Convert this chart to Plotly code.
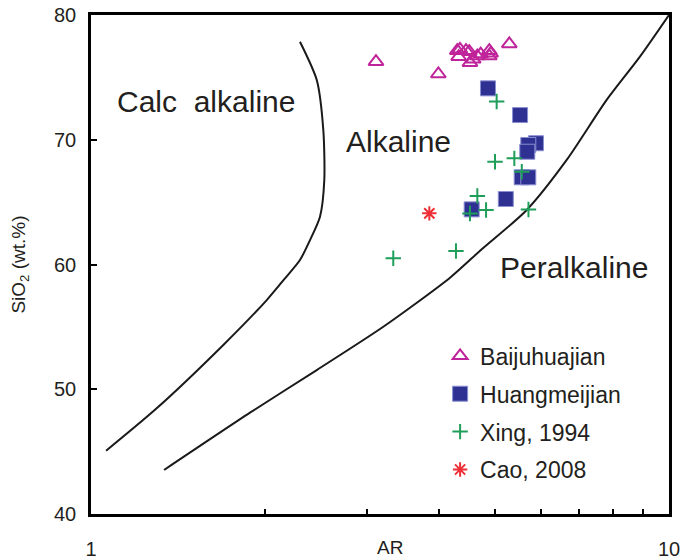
import math
import plotly.graph_objects as go

# ---- data ----
baiju_ar = [3.112, 3.990, 4.302, 4.348, 4.326, 4.454, 4.513, 4.525, 4.585, 4.659, 4.723, 4.888, 4.915, 4.888, 5.293]
baiju_si = [76.26, 75.27, 77.14, 77.25, 76.66, 77.14, 77.06, 76.18, 76.45, 76.71, 76.87, 77.14, 76.93, 76.71, 77.68]

huang_ar = [4.862, 5.525, 5.886, 5.709, 5.686, 5.561, 5.709, 5.220, 4.556]
huang_si = [74.12, 71.98, 69.72, 69.58, 69.04, 66.99, 66.99, 65.25, 64.42]

xing_ar = [5.033, 5.000, 5.400, 5.563, 4.660, 4.825, 4.525, 5.713, 4.280, 3.334]
xing_si = [73.07, 68.24, 68.51, 67.44, 65.49, 64.37, 64.09, 64.41, 61.08, 60.50]

cao_ar = [3.849]
cao_si = [64.10]

# boundary curves
calc_alk_ar = [1.062, 1.299, 1.694, 2.014, 2.166, 2.299, 2.393, 2.490, 2.533, 2.523, 2.458, 2.299]
calc_alk_si = [45.07, 48.47, 53.55, 57.15, 58.89, 60.36, 61.96, 63.83, 66.77, 70.78, 74.79, 77.86]

peralk_ar = [1.338, 1.884, 2.458, 3.204, 4.180, 4.742, 5.674, 6.653, 7.801, 8.907, 10.0]
peralk_si = [43.53, 48.12, 51.54, 55.01, 58.94, 61.22, 64.37, 68.38, 73.19, 76.66, 80.0]

x_tickvals = [1, 10]
x_ticktext = ["1", "10"]
x_minor = [2, 3, 4, 5, 6, 7, 8, 9]
y_tickvals = [40, 50, 60, 70, 80]

field_labels = ["Calc&nbsp; alkaline", "Alkaline", "Peralkaline"]
field_ar = [1.58, 3.41, 6.85]
field_si = [73.1, 69.9, 59.8]

FONT = "Liberation Sans, Arial, sans-serif"
TXT = "#231f20"

fig = go.Figure()

fig.add_trace(go.Scatter(x=calc_alk_ar, y=calc_alk_si, mode="lines",
                         line=dict(color="#1a1a1a", width=2, shape="spline", smoothing=0.7),
                         showlegend=False, hoverinfo="skip"))
fig.add_trace(go.Scatter(x=peralk_ar, y=peralk_si, mode="lines",
                         line=dict(color="#1a1a1a", width=2, shape="spline", smoothing=0.7),
                         showlegend=False, hoverinfo="skip"))

fig.add_trace(go.Scatter(x=baiju_ar, y=baiju_si, mode="markers", name="Baijuhuajian",
                         legendgroup="a",
                         marker=dict(symbol="triangle-up-open", size=13, color="#c0249a",
                                     line=dict(width=2, color="#c0249a"))))
fig.add_trace(go.Scatter(x=huang_ar, y=huang_si, mode="markers", name="Huangmeijian",
                         legendgroup="b",
                         marker=dict(symbol="square", size=15, color="#2e3192",
                                     line=dict(width=1, color="#8a8fd0"))))
fig.add_trace(go.Scatter(x=xing_ar, y=xing_si, mode="markers", name="Xing, 1994",
                         legendgroup="c",
                         marker=dict(symbol="cross-thin", size=11, color="#1f9e5a",
                                     line=dict(width=2, color="#1f9e5a"))))
fig.add_trace(go.Scatter(x=cao_ar, y=cao_si, mode="markers", name="Cao, 2008",
                         legendgroup="d",
                         marker=dict(symbol="asterisk-open", size=12, color="#ee2f36",
                                     line=dict(width=2, color="#ee2f36"))))

for t, xa, ya in zip(field_labels, field_ar, field_si):
    fig.add_annotation(x=math.log10(xa), y=ya, xref="x", yref="y", text=t, showarrow=False,
                       font=dict(family=FONT, size=30, color=TXT))

fig.add_annotation(x=0.517, y=-0.068, xref="paper", yref="paper", text="AR", showarrow=False,
                   yanchor="middle", font=dict(family=FONT, size=19, color=TXT))

fig.update_xaxes(type="log", range=[0, 1], tickvals=x_tickvals, ticktext=x_ticktext,
                 ticks="inside", ticklen=6, tickwidth=1.5, tickcolor="black",
                 minor=dict(tickvals=x_minor, ticks="inside", ticklen=5, tickwidth=1.5, tickcolor="black"),
                 showline=True, linecolor="black", linewidth=2.5, mirror=True,
                 showgrid=False, zeroline=False, ticklabelstandoff=15, automargin=False,
                 tickfont=dict(family=FONT, size=20, color=TXT))
fig.update_yaxes(range=[40, 80], tickvals=y_tickvals,
                 ticks="inside", ticklen=6, tickwidth=1.5, tickcolor="black",
                 showline=True, linecolor="black", linewidth=2.5, mirror=True,
                 showgrid=False, zeroline=False, ticklabelstandoff=8, automargin=False,
                 tickfont=dict(family=FONT, size=20, color=TXT),
                 title=dict(text="SiO<sub>2</sub> (wt.%)", standoff=24,
                            font=dict(family=FONT, size=19, color=TXT)))

fig.update_layout(
    width=682, height=560,
    margin=dict(l=91, r=13, t=15, b=46, autoexpand=False),
    paper_bgcolor="white", plot_bgcolor="white",
    font=dict(family=FONT, color=TXT),
    legend=dict(x=0.604, y=0.36, xanchor="left", yanchor="top",
                font=dict(family=FONT, size=23, color=TXT),
                bgcolor="rgba(0,0,0,0)", tracegroupgap=5, traceorder="grouped"),
)

fig.write_html("out.html", config={"displayModeBar": False},
               post_script="document.body.style.margin='0';")
